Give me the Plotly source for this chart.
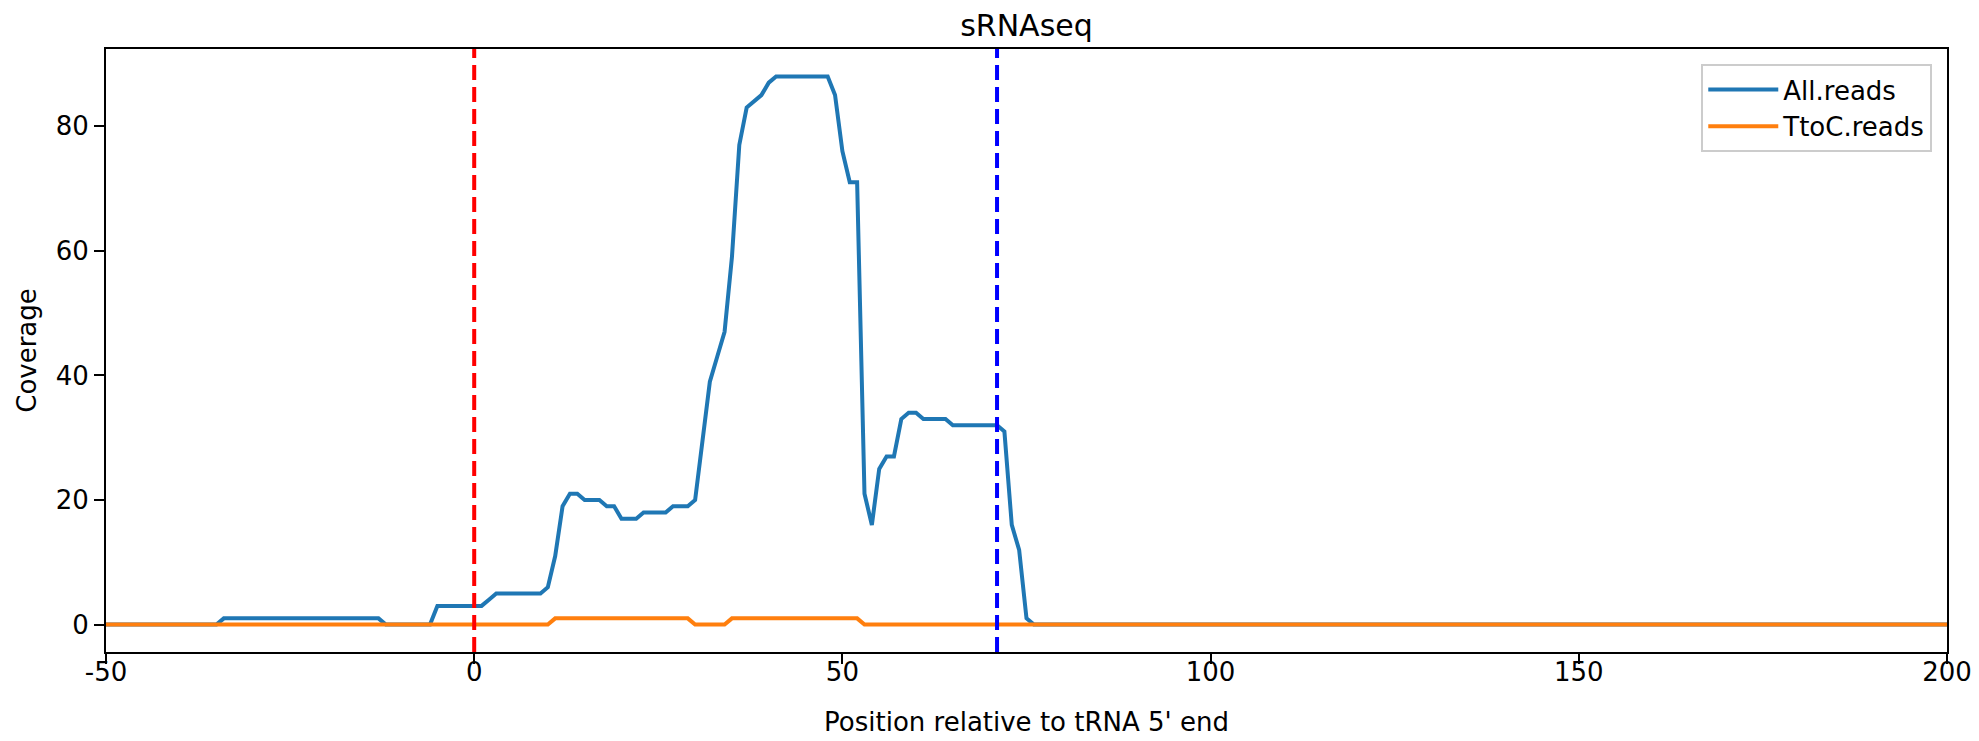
import plotly.graph_objects as go

# positions relative to the tRNA 5' end
positions = list(range(-50, 201))

# coverage of all reads (runs of equal values)
all_runs = [
    (-50, -35, 0), (-34, -13, 1), (-12, -6, 0), (-5, 1, 3), (2, 2, 4),
    (3, 9, 5), (10, 10, 6), (11, 11, 11), (12, 12, 19), (13, 14, 21),
    (15, 17, 20), (18, 19, 19), (20, 22, 17), (23, 26, 18), (27, 29, 19),
    (30, 30, 20), (31, 31, 29), (32, 32, 39), (33, 33, 43), (34, 34, 47),
    (35, 35, 59), (36, 36, 77), (37, 37, 83), (38, 38, 84), (39, 39, 85),
    (40, 40, 87), (41, 48, 88), (49, 49, 85), (50, 50, 76), (51, 52, 71),
    (53, 53, 21), (54, 54, 16), (55, 55, 25), (56, 57, 27), (58, 58, 33),
    (59, 60, 34), (61, 64, 33), (65, 71, 32), (72, 72, 31), (73, 73, 16),
    (74, 74, 12), (75, 75, 1), (76, 200, 0),
]

# coverage of T-to-C reads
ttoc_runs = [(-50, 10, 0), (11, 29, 1), (30, 34, 0), (35, 52, 1), (53, 200, 0)]

# tRNA start / end markers
marker_x = [0, 71]
marker_colors = ["red", "blue"]

x_ticks = [-50, 0, 50, 100, 150, 200]
x_ticklabels = ["-50", "0", "50", "100", "150", "200"]
y_ticks = [0, 20, 40, 60, 80]


def expand(runs):
    vals = {}
    for a, b, v in runs:
        for p in range(a, b + 1):
            vals[p] = v
    return [vals[p] for p in positions]


all_reads = expand(all_runs)
ttoc_reads = expand(ttoc_runs)

fig = go.Figure()
fig.add_trace(go.Scatter(x=positions, y=all_reads, mode="lines", name="All.reads",
                         line=dict(color="#1f77b4", width=4)))
fig.add_trace(go.Scatter(x=positions, y=ttoc_reads, mode="lines", name="TtoC.reads",
                         line=dict(color="#ff7f0e", width=4)))

for xv, c in zip(marker_x, marker_colors):
    fig.add_vline(x=xv, line=dict(color=c, width=4, dash="15px,7px"), layer="above")

axis_style = dict(showline=True, linecolor="black", linewidth=2, mirror=True,
                  showgrid=False, zeroline=False, ticks="outside", ticklen=10,
                  tickwidth=2, tickcolor="black", automargin=False,
                  tickfont=dict(size=26, color="black"))

# page body adds an 8px offset, margins account for it
fig.update_layout(
    width=1979, height=741,
    paper_bgcolor="white", plot_bgcolor="white",
    font=dict(family="DejaVu Sans", color="black"),
    margin=dict(l=98, r=40, t=41, b=97),
    title=dict(text="sRNAseq", x=0.5, xref="paper", yref="container", y=0.976,
               yanchor="middle", font=dict(size=30, color="black")),
    showlegend=True,
    legend=dict(x=0.992, y=0.975, xanchor="right", yanchor="top",
                bgcolor="rgba(255,255,255,0.8)", bordercolor="#cccccc",
                borderwidth=2, itemwidth=70, tracegroupgap=0,
                font=dict(size=26, color="black")),
)
fig.update_xaxes(range=[-50, 200], tickvals=x_ticks, ticktext=x_ticklabels,
                 ticklabelstandoff=-14,
                 title=dict(text="Position relative to tRNA 5' end",
                            font=dict(size=26), standoff=27), **axis_style)
fig.update_yaxes(range=[-4.4, 92.4], tickvals=y_ticks,
                 title=dict(text="Coverage", font=dict(size=26), standoff=12),
                 **axis_style)

fig.write_html("out.html")
